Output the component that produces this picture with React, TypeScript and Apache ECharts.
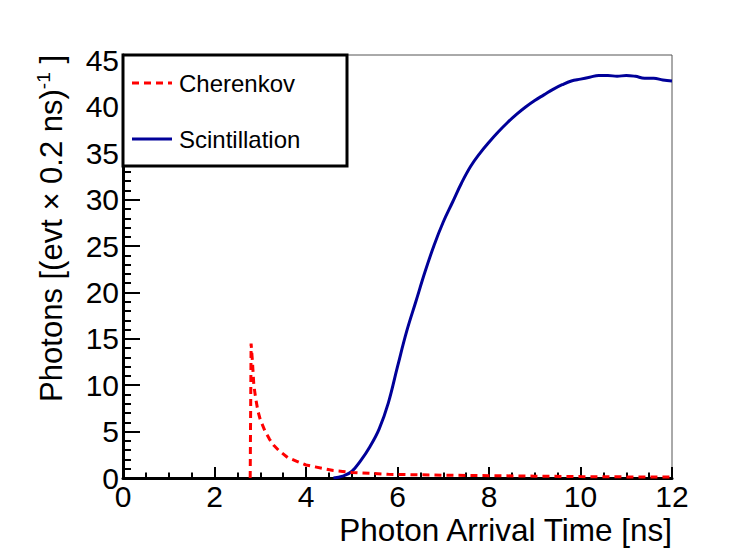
import React, { useEffect, useRef } from "react";
import * as echarts from "echarts";

const FONT = "'Liberation Sans', Arial, Helvetica, sans-serif";

// Scintillation histogram (time in ns, photons per event per 0.2 ns)
const scintTimes = [4.6, 4.8, 5.0, 5.2, 5.4, 5.6, 5.8, 6.0, 6.2, 6.4, 6.6, 6.8, 7.0, 7.2, 7.4, 7.6, 7.8, 8.0, 8.2, 8.4, 8.6, 8.8, 9.0, 9.2, 9.4, 9.6, 9.8, 10.0, 10.2, 10.4, 10.6, 10.8, 11.0, 11.2, 11.4, 11.6, 11.8, 12.0];
const scintValues = [0, 0.2, 0.7, 1.9, 3.4, 5.3, 8.1, 12.0, 15.8, 19.0, 22.2, 25.1, 27.6, 29.7, 31.8, 33.6, 35.0, 36.2, 37.3, 38.3, 39.2, 40.0, 40.7, 41.3, 41.9, 42.4, 42.8, 43.0, 43.2, 43.4, 43.4, 43.3, 43.4, 43.3, 43.1, 43.1, 42.9, 42.8];

// Cherenkov histogram
const cherTimes = [2.78, 2.8, 2.83, 2.86, 2.9, 2.95, 3.0, 3.1, 3.2, 3.3, 3.4, 3.5, 3.6, 3.8, 4.0, 4.2, 4.4, 4.6, 4.8, 5.0, 5.4, 5.8, 6.4, 7.0, 8.0, 9.0, 10.0, 11.0, 12.0];
const cherValues = [0, 14.5, 12.5, 10.0, 8.6, 7.2, 6.3, 5.1, 4.2, 3.5, 3.0, 2.6, 2.2, 1.8, 1.4, 1.2, 1.0, 0.8, 0.7, 0.6, 0.5, 0.4, 0.35, 0.3, 0.25, 0.2, 0.15, 0.12, 0.1];

const seriesNames = ["Cherenkov", "Scintillation"];
const seriesColors = ["#ff0000", "#000099"];
const xTitle = "Photon Arrival Time [ns]";
const yTitleMain = "Photons [(evt × 0.2 ns)";
const yTitleSup = "-1";

export default function App() {
  const ref = useRef<HTMLDivElement>(null);
  useEffect(() => {
    if (!ref.current) return;
    const chart = echarts.init(ref.current, undefined, { renderer: "svg" });
    const scint = scintTimes.map((t, i) => [t, scintValues[i]]);
    const cher = cherTimes.map((t, i) => [t, cherValues[i]]);
    chart.setOption({
      animation: false,
      backgroundColor: "#fff",
      grid: {
        left: 123,
        top: 55,
        width: 549,
        height: 423,
        show: true,
        borderColor: "#555",
        borderWidth: 1,
        containLabel: false,
      },
      xAxis: {
        type: "value",
        min: 0,
        max: 12,
        interval: 2,
        axisLine: { show: true, onZero: false, lineStyle: { color: "#000", width: 3 } },
        axisTick: { show: true, inside: true, length: 11, lineStyle: { color: "#000", width: 2 } },
        minorTick: { show: true, splitNumber: 4, length: 5.5, lineStyle: { color: "#000", width: 2 } },
        splitLine: { show: false },
        axisLabel: { fontSize: 30, color: "#000", fontFamily: FONT, margin: 3 },
      },
      yAxis: {
        type: "value",
        min: 0,
        max: 45.6,
        interval: 5,
        axisLine: { show: true, lineStyle: { color: "#000", width: 3 } },
        axisTick: { show: true, inside: true, length: 17, lineStyle: { color: "#000", width: 2 } },
        minorTick: { show: true, splitNumber: 5, length: 8, lineStyle: { color: "#000", width: 2 } },
        splitLine: { show: false },
        axisLabel: {
          fontSize: 30,
          color: "#000",
          fontFamily: FONT,
          margin: 4,
          formatter: (v: number) => (Math.abs(v % 5) < 1e-6 ? String(v) : ""),
        },
      },
      graphic: [
        {
          type: "rect",
          shape: { x: 123, y: 55, width: 224, height: 111 },
          style: { fill: "#fff", stroke: "#000", lineWidth: 3 },
          z: 10,
        },
        {
          type: "line",
          shape: { x1: 132, y1: 83, x2: 172, y2: 83 },
          style: { stroke: seriesColors[0], lineWidth: 3, lineDash: [7, 5] },
          z: 11,
        },
        {
          type: "text",
          x: 179,
          y: 83,
          style: { text: seriesNames[0], fontSize: 24, fontFamily: FONT, fill: "#000", align: "left", verticalAlign: "middle" },
          z: 11,
        },
        {
          type: "line",
          shape: { x1: 132, y1: 139, x2: 172, y2: 139 },
          style: { stroke: seriesColors[1], lineWidth: 3 },
          z: 11,
        },
        {
          type: "text",
          x: 179,
          y: 139,
          style: { text: seriesNames[1], fontSize: 24, fontFamily: FONT, fill: "#000", align: "left", verticalAlign: "middle" },
          z: 11,
        },
        {
          type: "text",
          x: 672,
          y: 530,
          style: {
            text: xTitle,
            align: "right",
            verticalAlign: "middle",
            fontSize: 31.5,
            fontFamily: FONT,
            fill: "#000",
          },
        },
        {
          type: "text",
          x: 51,
          y: 55,
          rotation: Math.PI / 2,
          style: {
            text: "{a|" + yTitleMain + "}{s|" + yTitleSup + "}{a| ]}",
            align: "right",
            verticalAlign: "middle",
            fill: "#000",
            rich: {
              a: { fontSize: 31, fontFamily: FONT, fill: "#000", lineHeight: 34 },
              s: { fontSize: 19, fontFamily: FONT, fill: "#000", verticalAlign: "top", lineHeight: 34 },
            },
          },
        },
      ],
      series: [
        {
          name: seriesNames[1],
          type: "line",
          data: scint,
          showSymbol: false,
          symbol: "none",
          smooth: 0.4,
          lineStyle: { color: seriesColors[1], width: 3 },
          z: 2,
        },
        {
          name: seriesNames[0],
          type: "line",
          data: cher,
          showSymbol: false,
          symbol: "none",
          lineStyle: { color: seriesColors[0], width: 3, type: [7, 5] },
          z: 3,
        },
      ],
    });
    return () => chart.dispose();
  }, []);
  return (
    <div
      ref={ref}
      style={{ position: "fixed", left: 0, top: 0, width: 747, height: 556 }}
    />
  );
}
